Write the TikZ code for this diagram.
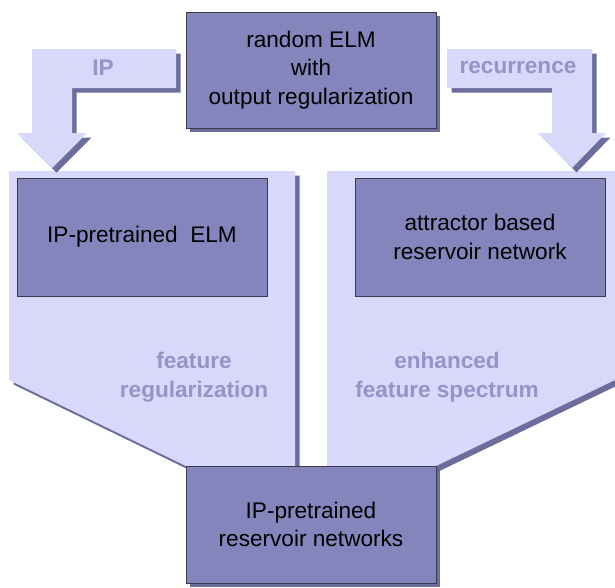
\documentclass[tikz,border=0pt]{standalone}
\usepackage{fontspec}
\setmainfont{Liberation Sans}
\usetikzlibrary{shadows}
\definecolor{lav}{HTML}{D8D8FB}
\definecolor{boxc}{HTML}{8585BD}
\definecolor{labc}{HTML}{9494C8}
\definecolor{shad}{HTML}{54548C}
\definecolor{edgec}{HTML}{3A3A4A}
\tikzset{
  boxnode/.style={draw=edgec, line width=0.8pt, fill=boxc, inner sep=0pt, outer sep=0pt,
    align=center, font=\fontsize{22.6}{28.5}\selectfont, text=black},
  shadowed/.style={drop shadow={shadow xshift=4pt, shadow yshift=-4pt, fill=shad, opacity=0.85}},
  panel/.style={fill=lav},
  shadowpath/.style={fill=shad, opacity=0.85, shift={(4.5,4.5)}},
  lab/.style={font=\bfseries\fontsize{22.6}{29}\selectfont, text=labc, align=center, inner sep=0pt}
}
\begin{document}
\begin{tikzpicture}[x=1pt,y=-1pt]
\useasboundingbox (0,0) rectangle (615,587);
% panels: shadows
\fill[shadowpath] (9,171) -- (295,171) -- (295,466) -- (186,466) -- (9,380) -- cycle;
\fill[shadowpath] (327,171) -- (615,171) -- (615,380) -- (436,466) -- (327,466) -- cycle;
% panels
\fill[panel] (9,171) -- (295,171) -- (295,466) -- (186,466) -- (9,380) -- cycle;
\fill[panel] (327,171) -- (615,171) -- (615,380) -- (436,466) -- (327,466) -- cycle;
% arrows: shadows
\fill[shadowpath] (32,49) -- (176,49) -- (176,88) -- (72,88) -- (72,133) -- (87,133) -- (52,168) -- (17,133) -- (32,133) -- cycle;
\fill[shadowpath] (447,49) -- (592,49) -- (592,133) -- (606,133) -- (572,168) -- (538,133) -- (552,133) -- (552,88) -- (447,88) -- cycle;
% arrows
\fill[panel] (32,49) -- (176,49) -- (176,88) -- (72,88) -- (72,133) -- (87,133) -- (52,168) -- (17,133) -- (32,133) -- cycle;
\fill[panel] (447,49) -- (592,49) -- (592,133) -- (606,133) -- (572,168) -- (538,133) -- (552,133) -- (552,88) -- (447,88) -- cycle;
% arrow labels
\node[lab] (ip) at (103,68) {IP};
\node[lab] (rec) at (518,68) {recurrence};
% panel labels
\node[lab] (featreg) at (194,377) {feature\\regularization};
\node[lab] (enh) at (447,377) {enhanced\\feature spectrum};
% boxes
\node[boxnode, shadowed, minimum width=250pt, minimum height=116pt] (top) at (311,70) {random ELM\\with\\output regularization};
\node[boxnode, minimum width=250pt, minimum height=118pt] (ipelm) at (142,237) {IP-pretrained\ \ ELM};
\node[boxnode, minimum width=250pt, minimum height=118pt] (attr) at (480,237) {attractor based\\reservoir network};
\node[boxnode, shadowed, minimum width=250pt, minimum height=117pt] (bot) at (311,524.5) {IP-pretrained\\reservoir networks};
\end{tikzpicture}
\end{document}
